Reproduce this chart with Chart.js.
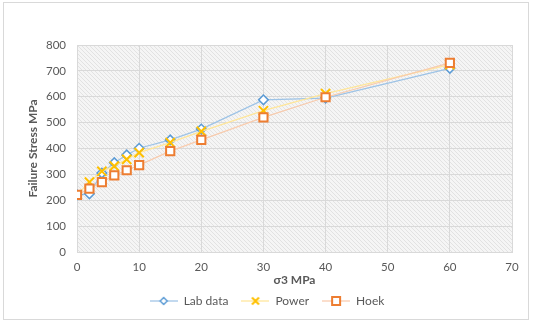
<!DOCTYPE html>
<html>
<head>
<meta charset="utf-8">
<script src="https://cdn.jsdelivr.net/npm/chart.js@4.4.1/dist/chart.umd.min.js"></script>
<style>
  html, body { margin: 0; padding: 0; background: #fff; }
  #wrap { position: relative; width: 536px; height: 323px; }
  #frame { position: absolute; left: 3px; top: 2px; width: 526px; height: 318px; border: 1px solid #d9d9d9; box-sizing: border-box; pointer-events: none; }
  canvas { display: block; }
</style>
</head>
<body>
<div id="wrap">
  <canvas id="c" width="536" height="323"></canvas>
  <div id="frame"></div>
</div>
<script>
const sigma3 = [0, 2, 4, 6, 8, 10, 15, 20, 30, 40, 60];
const labData = [221, 225, 305, 345, 375, 401, 433, 475, 588, 595, 710];
const powerData = [221, 270, 312, 332, 358, 384, 423, 466, 546, 612, 724];
const hoekData = [221, 245, 270, 296, 316, 336, 390, 433, 520, 598, 731];
const xTicks = [0, 10, 20, 30, 40, 50, 60, 70];
const yTicks = [0, 100, 200, 300, 400, 500, 600, 700, 800];

const FONT = "Lato, 'Open Sans', sans-serif";
const TXT = '#595959';

function pts(arr) { return sigma3.map((x, i) => ({ x: x, y: arr[i] })); }

// hatch pattern
const pc = document.createElement('canvas');
pc.width = 4; pc.height = 4;
const pctx = pc.getContext('2d');
pctx.fillStyle = '#f5f5f5';
pctx.fillRect(0, 0, 4, 4);
pctx.strokeStyle = '#e2e2e2';
pctx.lineWidth = 1;
pctx.beginPath();
pctx.moveTo(-1, -1); pctx.lineTo(5, 5);
pctx.moveTo(-1, 3); pctx.lineTo(1, 5);
pctx.moveTo(3, -1); pctx.lineTo(5, 1);
pctx.stroke();

const hatchPlugin = {
  id: 'hatch',
  beforeDraw(chart) {
    const { ctx, chartArea: a } = chart;
    ctx.save();
    ctx.fillStyle = ctx.createPattern(pc, 'repeat');
    ctx.fillRect(a.left, a.top, a.right - a.left, a.bottom - a.top);
    ctx.restore();
  }
};

function legendImg(lineColor, style, stroke) {
  const c = document.createElement('canvas');
  c.width = 28; c.height = 12;
  const g = c.getContext('2d');
  g.strokeStyle = lineColor; g.lineWidth = 1.25;
  g.beginPath(); g.moveTo(0, 6); g.lineTo(28, 6); g.stroke();
  const cx = 14, cy = 6;
  if (style === 'diamond') {
    g.fillStyle = '#fff'; g.strokeStyle = stroke; g.lineWidth = 1.5;
    g.beginPath(); g.moveTo(cx - 3.5, cy); g.lineTo(cx, cy - 3.5); g.lineTo(cx + 3.5, cy); g.lineTo(cx, cy + 3.5); g.closePath();
    g.fill(); g.stroke();
  } else if (style === 'x') {
    g.strokeStyle = stroke; g.lineWidth = 2;
    g.beginPath(); g.moveTo(cx - 3.5, cy - 3.5); g.lineTo(cx + 3.5, cy + 3.5);
    g.moveTo(cx + 3.5, cy - 3.5); g.lineTo(cx - 3.5, cy + 3.5); g.stroke();
  } else {
    g.fillStyle = '#fff'; g.strokeStyle = stroke; g.lineWidth = 2;
    g.fillRect(cx - 4, cy - 4, 8, 8); g.strokeRect(cx - 4, cy - 4, 8, 8);
  }
  return c;
}

const imgs = [
  legendImg('#9dc3e6', 'diamond', '#5b9bd5'),
  legendImg('#ffe699', 'x', '#ffc000'),
  legendImg('#f8cbad', 'square', '#ed7d31')
];

new Chart(document.getElementById('c'), {
  type: 'line',
  data: {
    datasets: [
      {
        label: 'Lab data', data: pts(labData), order: 2,
        borderColor: '#9dc3e6', borderWidth: 1.25,
        pointStyle: 'rectRot', pointRadius: 4.8, pointBorderWidth: 1.5,
        pointBorderColor: '#5b9bd5', pointBackgroundColor: '#ffffff'
      },
      {
        label: 'Power', data: pts(powerData), order: 1,
        borderColor: '#ffe699', borderWidth: 1.25,
        pointStyle: 'crossRot', pointRadius: 6.5, pointBorderWidth: 2,
        pointBorderColor: '#ffc000', pointBackgroundColor: '#ffc000'
      },
      {
        label: 'Hoek', data: pts(hoekData), order: 0,
        borderColor: '#f8cbad', borderWidth: 1.25,
        pointStyle: 'rect', pointRadius: 5.8, pointBorderWidth: 2,
        pointBorderColor: '#ed7d31', pointBackgroundColor: '#ffffff'
      }
    ]
  },
  options: {
    responsive: false,
    animation: false,
    devicePixelRatio: 1,
    layout: { padding: { left: 22, right: 24, top: 45, bottom: 6 } },
    plugins: {
      tooltip: { enabled: false },
      legend: {
        position: 'bottom',
        labels: {
          usePointStyle: true,
          pointStyleWidth: 28,
          boxHeight: 11,
          padding: 13,
          color: TXT,
          font: { family: FONT, size: 12 },
          generateLabels(chart) {
            return chart.data.datasets.map((d, i) => ({
              text: d.label, datasetIndex: i, pointStyle: imgs[i],
              fillStyle: 'transparent', strokeStyle: 'transparent', lineWidth: 0,
              fontColor: TXT, hidden: false
            }));
          }
        }
      }
    },
    scales: {
      x: {
        type: 'linear', min: 0, max: 70,
        afterBuildTicks(s) { s.ticks = xTicks.map(v => ({ value: v })); },
        afterFit(s) { s.height = 30; },
        grid: { color: '#d9d9d9', drawTicks: false, lineWidth: 1 },
        border: { color: '#d9d9d9' },
        ticks: { padding: 8, color: TXT, font: { family: FONT, size: 11.5 } },
        title: { display: true, text: 'σ3 MPa', color: TXT, padding: { top: 0, bottom: -5 },
                 font: { family: FONT, size: 12, weight: 'bold' } }
      },
      y: {
        type: 'linear', min: 0, max: 800,
        afterBuildTicks(s) { s.ticks = yTicks.map(v => ({ value: v })); },
        afterFit(s) { s.width = 55; },
        grid: { color: '#d9d9d9', drawTicks: false, lineWidth: 1 },
        border: { color: '#d9d9d9' },
        ticks: { padding: 11, color: TXT, font: { family: FONT, size: 11.5 } },
        title: { display: true, text: 'Failure Stress MPa', color: TXT, padding: { top: 4, bottom: 0 },
                 font: { family: FONT, size: 12, weight: 'bold' } }
      }
    }
  },
  plugins: [hatchPlugin]
});
</script>
</body>
</html>
